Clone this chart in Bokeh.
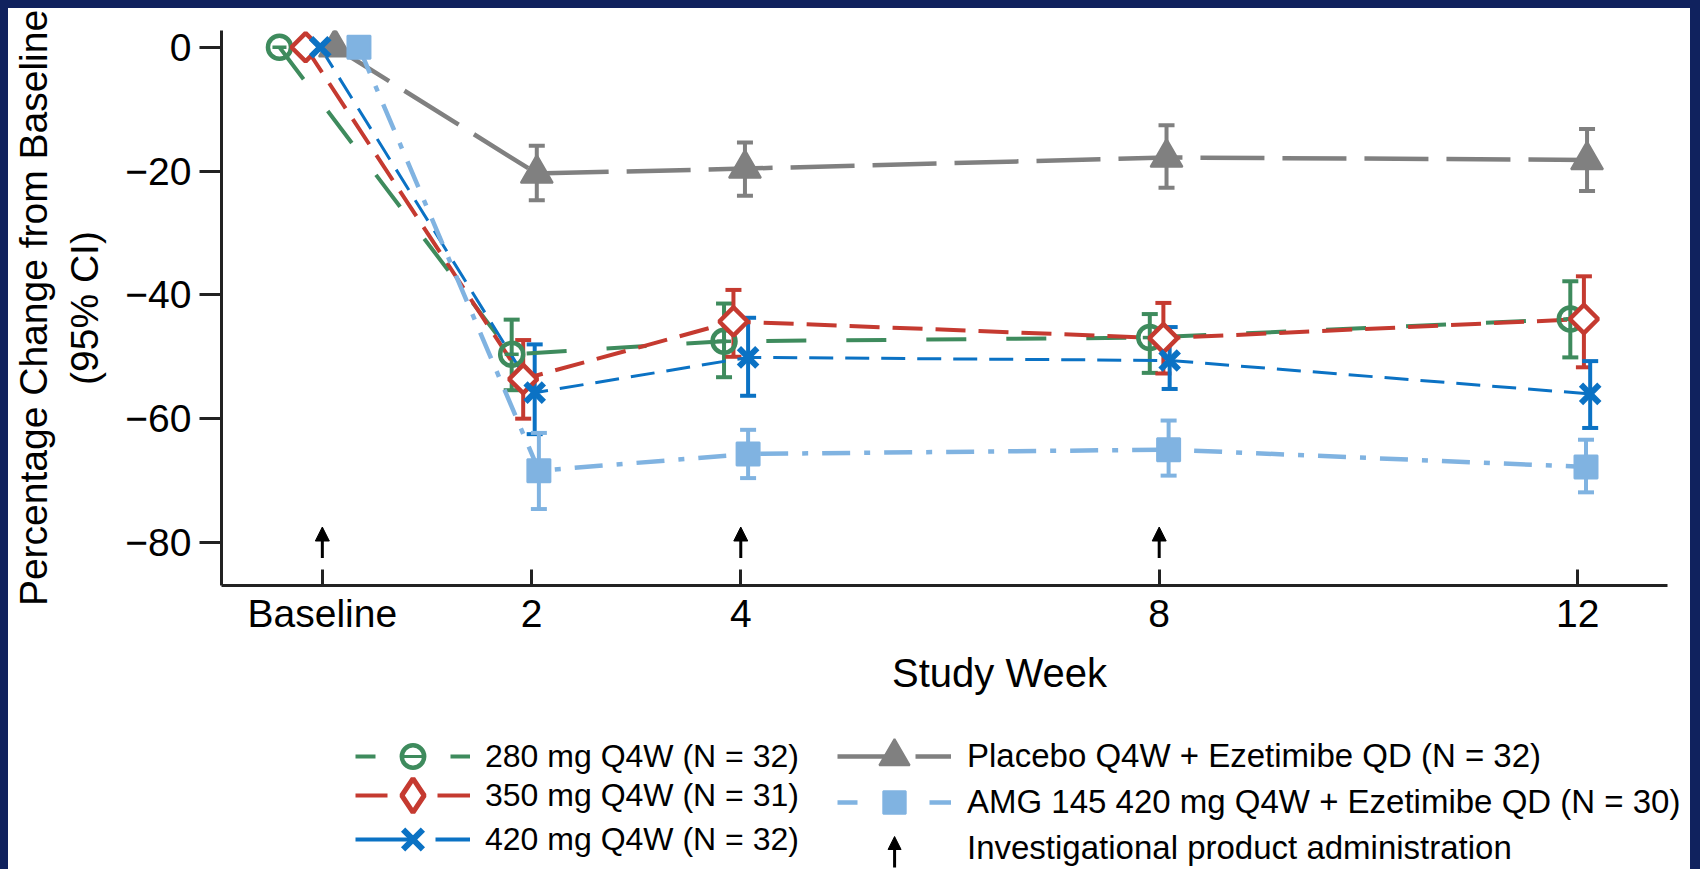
from bokeh.plotting import figure
from bokeh.layouts import column
from bokeh.models import (Range1d, FixedTicker, Whisker, TeeHead, ColumnDataSource,
                          Legend, LegendItem, Arrow, NormalHead, Label)
from bokeh.embed import file_html
from bokeh.resources import INLINE
import math

# ---------------- data ----------------
weeks = [0, 2, 4, 8, 12]
week_labels = ["Baseline", "2", "4", "8", "12"]
admin_weeks = [0, 4, 8]

names = ["280 mg Q4W (N = 32)", "350 mg Q4W (N = 31)", "420 mg Q4W (N = 32)",
         "Placebo Q4W + Ezetimibe QD (N = 32)", "AMG 145 420 mg Q4W + Ezetimibe QD (N = 30)"]
admin_label = "Investigational product administration"

# mean percentage change from baseline
mean_280 = [0, -49.6, -47.5, -46.9, -43.9]
mean_350 = [0, -53.6, -44.3, -47.0, -43.9]
mean_420 = [0, -55.8, -50.1, -50.6, -56.0]
mean_pbo = [0, -20.4, -19.6, -17.8, -18.2]
mean_eze = [0, -68.4, -65.7, -65.0, -67.8]

# 95% CI (weeks 2, 4, 8, 12)
lo_280 = [-55.4, -53.3, -52.6, -50.1]
hi_280 = [-44.0, -41.4, -43.1, -37.8]
lo_350 = [-60.0, -50.0, -52.7, -51.7]
hi_350 = [-47.3, -39.2, -41.3, -37.0]
lo_420 = [-62.5, -56.3, -55.2, -61.5]
hi_420 = [-48.0, -43.7, -45.2, -50.7]
lo_pbo = [-24.7, -24.0, -22.7, -23.2]
hi_pbo = [-15.9, -15.4, -12.6, -13.2]
lo_eze = [-74.6, -69.6, -69.2, -71.9]
hi_eze = [-62.3, -61.8, -60.3, -63.4]

# horizontal dodge of each series (weeks)
dodge_280 = [-0.41, -0.19, -0.16, -0.09, -0.07]
dodge_350 = [-0.16, -0.08, -0.07, 0.04, 0.06]
dodge_420 = [-0.02, 0.03, 0.07, 0.10, 0.12]
dodge_pbo = [0.12, 0.05, 0.04, 0.07, 0.09]
dodge_eze = [0.35, 0.07, 0.07, 0.09, 0.08]

# ---------------- styles ----------------
GREEN = "#3e8b5d"
RED = "#c53a30"
BLUE = "#0b72c4"
GRAY = "#808080"
LBLUE = "#80b3e1"
FONT = "Liberation Sans"

W = 1682
FIG1_H = 639
FIG2_H = 222
LEFT = 211

X_LO, X_AXIS_HI, X_HI = -0.964, 12.86, 13.079

p1 = figure(width=W, height=FIG1_H, output_backend="svg", toolbar_location=None,
            x_range=Range1d(X_LO, X_HI), y_range=Range1d(-86.95, 2.71),
            min_border_left=LEFT, min_border_right=0, min_border_top=22, min_border_bottom=62,
            background_fill_color="white", border_fill_color="white", outline_line_color=None)
p1.xgrid.visible = False
p1.ygrid.visible = False

# axes
p1.xaxis.bounds = (X_LO, X_AXIS_HI)
p1.xaxis.ticker = FixedTicker(ticks=weeks)
p1.xaxis.major_label_overrides = {w: l for w, l in zip(weeks, week_labels)}
p1.xaxis.major_tick_in = 16
p1.xaxis.major_tick_out = 0
p1.xaxis.minor_tick_line_color = None
p1.xaxis.major_label_standoff = 6

p1.yaxis.ticker = FixedTicker(ticks=[0, -20, -40, -60, -80])
p1.yaxis.major_label_overrides = {0: "0", -20: "\u221220", -40: "\u221240", -60: "\u221260", -80: "\u221280"}
p1.yaxis.major_tick_in = 0
p1.yaxis.major_tick_out = 22
p1.yaxis.minor_tick_line_color = None
p1.yaxis.major_label_standoff = 8
p1.yaxis.axis_label = "Percentage Change from Baseline\n(95% CI)"
p1.yaxis.axis_label_standoff = 16
p1.yaxis.axis_label_text_font = FONT
p1.yaxis.axis_label_text_font_size = "39px"
p1.yaxis.axis_label_text_font_style = "normal"
p1.yaxis.axis_label_text_color = "black"

for ax in (p1.xaxis, p1.yaxis):
    ax.axis_line_width = 3
    ax.axis_line_color = "#222222"
    ax.major_tick_line_width = 3
    ax.major_tick_line_color = "#222222"
    ax.major_label_text_font = FONT
    ax.major_label_text_font_size = "39px"
    ax.major_label_text_color = "black"

series = [
    (mean_280, lo_280, hi_280, dodge_280, GREEN, "40 40", 4),
    (mean_350, lo_350, hi_350, dodge_350, RED, "30 13", 4),
    (mean_420, lo_420, hi_420, dodge_420, BLUE, "24 12", 3),
    (mean_pbo, lo_pbo, hi_pbo, dodge_pbo, GRAY, "64 18", 4.5),
    (mean_eze, lo_eze, hi_eze, dodge_eze, LBLUE, "28 14 6 14", 4.5),
]

sources = []
for mean, lo, hi, dg, col, dash, lw in series:
    xs = [w + d for w, d in zip(weeks, dg)]
    src = ColumnDataSource(dict(x=xs, y=mean))
    sources.append(src)
    wsrc = ColumnDataSource(dict(x=xs[1:], lo=lo, hi=hi))
    p1.add_layout(Whisker(source=wsrc, base="x", lower="lo", upper="hi", dimension="height",
                          line_color=col, line_width=4,
                          upper_head=TeeHead(size=16, line_color=col, line_width=4),
                          lower_head=TeeHead(size=16, line_color=col, line_width=4)))
    p1.line("x", "y", source=src, line_color=col, line_width=lw, line_dash=dash)

# markers (drawn in order gray, light blue, green, red, blue)
p1.scatter("x", "y", source=sources[3], marker="triangle", size=32,
           fill_color=GRAY, line_color=GRAY, line_width=2)
p1.scatter("x", "y", source=sources[4], marker="square", size=23,
           fill_color=LBLUE, line_color=LBLUE, line_width=2)
p1.scatter("x", "y", source=sources[0], marker="circle", size=23,
           fill_color=None, line_color=GREEN, line_width=4.5)
p1.scatter("x", "y", source=sources[0], marker="dash", size=14,
           line_color=GREEN, line_width=3.5)
p1.scatter("x", "y", source=sources[1], marker="square", size=20, angle=math.pi / 4,
           fill_color="white", line_color=RED, line_width=4.5)
p1.scatter("x", "y", source=sources[2], marker="x", size=26,
           line_color=BLUE, line_width=6)

# investigational product administration arrows
asrc = ColumnDataSource(dict(x=admin_weeks, y0=[-82.5] * len(admin_weeks), y1=[-77.5] * len(admin_weeks)))
p1.add_layout(Arrow(source=asrc, x_start="x", y_start="y0", x_end="x", y_end="y1",
                    line_color="black", line_width=3,
                    end=NormalHead(size=14, fill_color="black", line_color="black", line_width=1)))

# ---------------- lower panel: axis title + legend (page-pixel coordinates) ----------------
P2_TOP, P2_BOTTOM = 8 + FIG1_H, 8 + FIG1_H + FIG2_H
P2_LEFT_PAGE = 8 + LEFT

p2 = figure(width=W, height=FIG2_H, output_backend="svg", toolbar_location=None,
            x_range=Range1d(P2_LEFT_PAGE, 8 + W), y_range=Range1d(P2_BOTTOM, P2_TOP),
            x_axis_location=None, y_axis_location=None,
            min_border_left=LEFT, min_border_right=0, min_border_top=0, min_border_bottom=0,
            background_fill_color="white", border_fill_color="white", outline_line_color=None)
p2.xgrid.visible = False
p2.ygrid.visible = False

p2.add_layout(Label(x=998, y=672, text="Study Week", text_align="center", text_baseline="middle",
                    text_font=FONT, text_font_size="40px", text_color="black"))

# arrow key of the legend
p2.add_layout(Arrow(x_start=893, y_start=867, x_end=893, y_end=836,
                    line_color="black", line_width=3,
                    end=NormalHead(size=13, fill_color="black", line_color="black", line_width=1)))

OFF = dict(x=[0, 10], y=[0, 0])   # legend-key renderers, kept outside the view


def key_line(col, dash, lw):
    return p2.line(OFF["x"], OFF["y"], line_color=col, line_dash=dash, line_width=lw)


k280 = [key_line(GREEN, "20 75 20", 4),
        p2.scatter(OFF["x"], OFF["y"], marker="circle", size=10, fill_color=None, line_color=GREEN, line_width=4.5),
        p2.scatter(OFF["x"], OFF["y"], marker="dash", size=10, line_color=GREEN, line_width=3)]
k350 = [key_line(RED, "32 50 33", 4),
        p2.scatter(OFF["x"], OFF["y"], marker="diamond", size=10, fill_color="white", line_color=RED, line_width=5)]
k420 = [key_line(BLUE, "60 20 35", 4),
        p2.scatter(OFF["x"], OFF["y"], marker="x", size=10, line_color=BLUE, line_width=6)]
kpbo = [key_line(GRAY, "62 16 36", 4.5),
        p2.scatter(OFF["x"], OFF["y"], marker="triangle", size=10, fill_color=GRAY, line_color=GRAY, line_width=2)]
keze = [key_line(LBLUE, "20 72 22", 4.5),
        p2.scatter(OFF["x"], OFF["y"], marker="square", size=10, fill_color=LBLUE, line_color=LBLUE, line_width=2)]
kadm = [p2.scatter(OFF["x"], OFF["y"], marker="dot", size=1, fill_alpha=0, line_alpha=0)]


def add_key(label, rends, x_left_page, row_center_page, gh, gw, standoff, fsize):
    leg = Legend(items=[LegendItem(label=label, renderers=rends)],
                 location=(x_left_page - P2_LEFT_PAGE, P2_BOTTOM - row_center_page - gh / 2),
                 orientation="vertical", glyph_width=gw, glyph_height=gh, label_standoff=standoff,
                 label_text_font=FONT, label_text_font_size=fsize, label_text_color="black",
                 padding=0, margin=0, spacing=0, border_line_color=None, background_fill_alpha=0)
    p2.add_layout(leg)


add_key(names[0], k280, 353, 756, 56, 115, 15, "32px")
add_key(names[1], k350, 353, 795, 84, 115, 15, "32px")
add_key(names[2], k420, 353, 839, 70, 115, 15, "32px")
add_key(names[3], kpbo, 835, 756, 76, 114, 16, "33px")
add_key(names[4], keze, 835, 802, 56, 114, 16, "33px")
add_key(admin_label, kadm, 835, 848, 42, 114, 16, "33px")

layout = column(p1, p2, spacing=0)

html = file_html(layout, INLINE)
css = ("<style>html {background:#10225e; overflow:hidden;} "
       "body {background:white; margin:8px 10px 0 8px; overflow:hidden;}</style>")
html = html.replace("</head>", css + "</head>", 1)
open("out.html", "w").write(html)
